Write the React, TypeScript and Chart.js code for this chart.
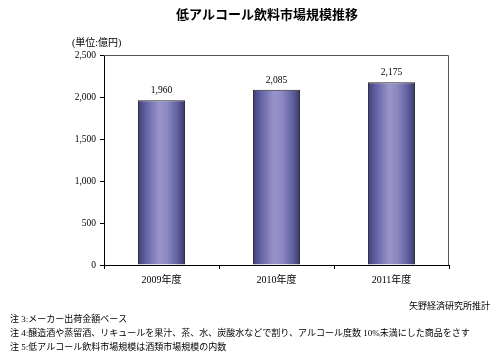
import React, { useEffect, useRef } from "react";
import { Chart, registerables } from "chart.js";

Chart.register(...registerables);

const title = "低アルコール飲料市場規模推移";
const unitLabel = "(単位:億円)";
const categories = ["2009年度", "2010年度", "2011年度"];
const values = [1960, 2085, 2175];
const source = "矢野経済研究所推計";
const notes = [
  "注 3:メーカー出荷金額ベース",
  "注 4:醸造酒や蒸留酒、リキュールを果汁、茶、水、炭酸水などで割り、アルコール度数 10%未満にした商品をさす",
  "注 5:低アルコール飲料市場規模は酒類市場規模の内数",
];

const SERIF = '"Liberation Serif", "Noto Sans CJK JP", serif';
const JP = '"Liberation Serif", "Noto Sans CJK JP", sans-serif';
const BAR_PCT = 0.41;

function barFill(c: any) {
  const chart = c.chart;
  const xs = chart.scales && chart.scales.x;
  if (!xs || !chart.chartArea) return "#7c7ab8";
  const x = xs.getPixelForValue(c.dataIndex);
  const half = ((xs.width / categories.length) * BAR_PCT) / 2;
  if (!isFinite(x) || !isFinite(half)) return "#7c7ab8";
  const g = chart.ctx.createLinearGradient(x - half, 0, x + half, 0);
  g.addColorStop(0, "#3e3f78");
  g.addColorStop(0.18, "#6464a8");
  g.addColorStop(0.45, "#9994c8");
  g.addColorStop(0.62, "#8c88c0");
  g.addColorStop(0.85, "#5e5ea0");
  g.addColorStop(1, "#383866");
  return g;
}

const decorPlugin = {
  id: "decor",
  afterDatasetsDraw(chart: any) {
    const ctx = chart.ctx;
    const { left, right, top, bottom } = chart.chartArea;
    ctx.save();
    ctx.strokeStyle = "#555";
    ctx.lineWidth = 1;
    ctx.beginPath();
    ctx.moveTo(left, top + 0.5);
    ctx.lineTo(right - 0.5, top + 0.5);
    ctx.lineTo(right - 0.5, bottom);
    ctx.stroke();
    const meta = chart.getDatasetMeta(0);
    ctx.fillStyle = "#000";
    ctx.font = `9.5px ${SERIF}`;
    ctx.textAlign = "center";
    ctx.textBaseline = "bottom";
    meta.data.forEach((bar: any, i: number) => {
      ctx.fillText(values[i].toLocaleString("en-US"), bar.x, bar.y - 5);
    });
    ctx.restore();
  },
  afterDraw(chart: any) {
    const ctx = chart.ctx;
    ctx.save();
    ctx.fillStyle = "#000";
    ctx.textBaseline = "middle";
    ctx.textAlign = "center";
    ctx.font = `bold 13px "Noto Sans CJK JP", sans-serif`;
    ctx.fillText(title, 267, 14);
    ctx.textAlign = "left";
    ctx.font = `10px ${JP}`;
    ctx.fillText(unitLabel, 72, 43);
    ctx.textAlign = "right";
    ctx.font = `9px ${JP}`;
    ctx.fillText(source, 490, 307);
    ctx.textAlign = "left";
    const ys = [320, 334, 348];
    notes.forEach((n, i) => ctx.fillText(n, 10, ys[i]));
    ctx.restore();
  },
};

export default function App() {
  const ref = useRef<HTMLCanvasElement | null>(null);
  useEffect(() => {
    document.body.style.margin = "0";
    const chart = new Chart(ref.current as HTMLCanvasElement, {
      type: "bar",
      data: {
        labels: categories,
        datasets: [
          {
            data: values,
            backgroundColor: barFill,
            borderColor: "#222",
            borderWidth: 1,
            borderSkipped: "bottom",
            barPercentage: BAR_PCT,
            categoryPercentage: 1,
          },
        ],
      },
      options: {
        animation: false,
        responsive: false,
        maintainAspectRatio: false,
        layout: { padding: { left: 0, right: 51, top: 55, bottom: 0 } },
        plugins: { legend: { display: false }, tooltip: { enabled: false }, title: { display: false } },
        scales: {
          x: {
            grid: { display: true, drawOnChartArea: false, offset: true, tickLength: 4, color: "#000" },
            border: { display: true, color: "#000", width: 1 },
            ticks: { color: "#000", font: { family: JP, size: 10 }, padding: 5 },
            afterFit: (s: any) => {
              s.height = 92;
            },
          },
          y: {
            min: 0,
            max: 2500,
            grid: { display: true, drawOnChartArea: false, tickLength: 4, color: "#000" },
            border: { display: true, color: "#000", width: 1 },
            ticks: {
              stepSize: 500,
              color: "#000",
              font: { family: SERIF, size: 9.5 },
              padding: 4,
              callback: (v: any) => Number(v).toLocaleString("en-US"),
            },
            afterFit: (s: any) => {
              s.width = 104;
            },
          },
        },
      },
      plugins: [decorPlugin],
    });
    return () => chart.destroy();
  }, []);
  return (
    <div style={{ width: 500, height: 357, position: "relative", background: "#fff" }}>
      <canvas ref={ref} width={500} height={357} style={{ width: 500, height: 357, display: "block" }} />
    </div>
  );
}
